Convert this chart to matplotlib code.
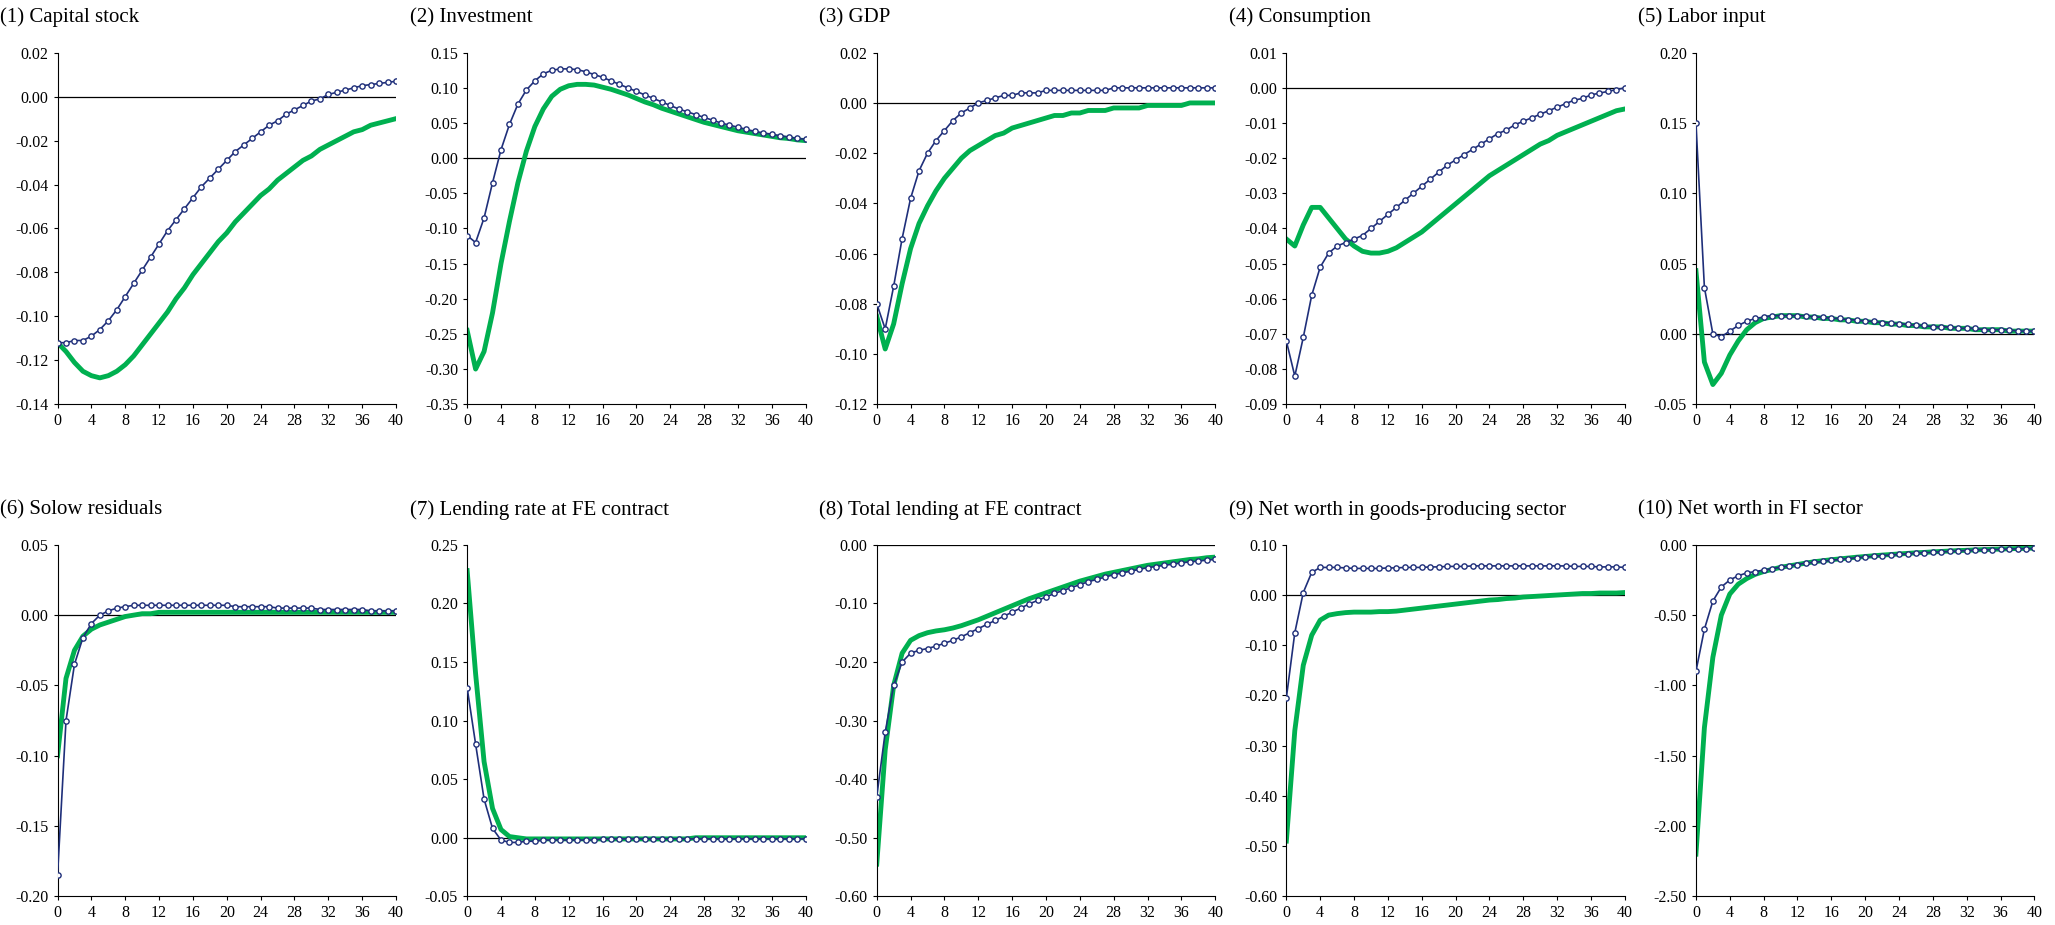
import matplotlib
matplotlib.use('Agg')
import matplotlib.pyplot as plt
import numpy as np

plt.rcParams['font.family'] = ['Liberation Serif', 'DejaVu Serif']

titles = ['(1) Capital stock', '(2) Investment', '(3) GDP', '(4) Consumption', '(5) Labor input',
          '(6) Solow residuals', '(7) Lending rate at FE contract', '(8) Total lending at FE contract',
          '(9) Net worth in goods-producing sector', '(10) Net worth in FI sector']

ylims = [(-0.14, 0.02, 0.02), (-0.35, 0.15, 0.05), (-0.12, 0.02, 0.02), (-0.09, 0.01, 0.01),
         (-0.05, 0.20, 0.05), (-0.20, 0.05, 0.05), (-0.05, 0.25, 0.05), (-0.60, 0.00, 0.10),
         (-0.60, 0.10, 0.10), (-2.50, 0.00, 0.50)]

capital_blue = [-0.112,-0.112,-0.111,-0.111,-0.109,-0.106,-0.102,-0.097,-0.091,-0.085,-0.079,-0.073,-0.067,-0.061,-0.056,-0.051,-0.046,-0.041,-0.037,-0.033,-0.029,-0.025,-0.022,-0.019,-0.016,-0.013,-0.011,-0.008,-0.006,-0.004,-0.002,-0.001,0.001,0.002,0.003,0.004,0.005,0.0055,0.006,0.0065,0.007]
capital_green = [-0.112,-0.116,-0.121,-0.125,-0.127,-0.128,-0.127,-0.125,-0.122,-0.118,-0.113,-0.108,-0.103,-0.098,-0.092,-0.087,-0.081,-0.076,-0.071,-0.066,-0.062,-0.057,-0.053,-0.049,-0.045,-0.042,-0.038,-0.035,-0.032,-0.029,-0.027,-0.024,-0.022,-0.020,-0.018,-0.016,-0.015,-0.013,-0.012,-0.011,-0.010]
invest_blue = [-0.11,-0.12,-0.085,-0.035,0.012,0.048,0.077,0.097,0.11,0.12,0.125,0.127,0.127,0.126,0.123,0.119,0.115,0.11,0.105,0.1,0.095,0.09,0.085,0.08,0.075,0.07,0.066,0.062,0.058,0.054,0.05,0.047,0.044,0.041,0.038,0.036,0.034,0.032,0.03,0.028,0.027]
invest_green = [-0.245,-0.30,-0.275,-0.22,-0.15,-0.09,-0.035,0.01,0.045,0.07,0.088,0.098,0.103,0.105,0.105,0.104,0.101,0.098,0.094,0.09,0.085,0.08,0.076,0.071,0.067,0.063,0.059,0.055,0.051,0.048,0.045,0.042,0.039,0.037,0.035,0.033,0.031,0.029,0.028,0.026,0.025]
gdp_blue = [-0.08,-0.09,-0.073,-0.054,-0.038,-0.027,-0.02,-0.015,-0.011,-0.007,-0.004,-0.002,0.0,0.001,0.002,0.003,0.003,0.004,0.004,0.004,0.005,0.005,0.005,0.005,0.005,0.005,0.005,0.005,0.006,0.006,0.006,0.006,0.006,0.006,0.006,0.006,0.006,0.006,0.006,0.006,0.006]
gdp_green = [-0.085,-0.098,-0.088,-0.072,-0.058,-0.048,-0.041,-0.035,-0.03,-0.026,-0.022,-0.019,-0.017,-0.015,-0.013,-0.012,-0.01,-0.009,-0.008,-0.007,-0.006,-0.005,-0.005,-0.004,-0.004,-0.003,-0.003,-0.003,-0.002,-0.002,-0.002,-0.002,-0.001,-0.001,-0.001,-0.001,-0.001,0.0,0.0,0.0,0.0]
cons_blue = [-0.072,-0.082,-0.071,-0.059,-0.051,-0.047,-0.045,-0.044,-0.043,-0.042,-0.04,-0.038,-0.036,-0.034,-0.032,-0.03,-0.028,-0.026,-0.024,-0.022,-0.0205,-0.019,-0.0175,-0.016,-0.0145,-0.013,-0.012,-0.0105,-0.0095,-0.0085,-0.0075,-0.0065,-0.0055,-0.0045,-0.0035,-0.003,-0.002,-0.0015,-0.001,-0.0005,0.0]
cons_green = [-0.043,-0.045,-0.039,-0.034,-0.034,-0.037,-0.04,-0.043,-0.045,-0.0465,-0.047,-0.047,-0.0465,-0.0455,-0.044,-0.0425,-0.041,-0.039,-0.037,-0.035,-0.033,-0.031,-0.029,-0.027,-0.025,-0.0235,-0.022,-0.0205,-0.019,-0.0175,-0.016,-0.015,-0.0135,-0.0125,-0.0115,-0.0105,-0.0095,-0.0085,-0.0075,-0.0065,-0.006]
labor_blue = [0.15,0.033,0.0,-0.002,0.002,0.006,0.009,0.011,0.012,0.013,0.013,0.013,0.013,0.013,0.012,0.012,0.011,0.011,0.01,0.01,0.009,0.009,0.008,0.008,0.007,0.007,0.006,0.006,0.005,0.005,0.005,0.004,0.004,0.004,0.003,0.003,0.003,0.003,0.002,0.002,0.002]
labor_green = [0.045,-0.02,-0.036,-0.028,-0.015,-0.005,0.003,0.008,0.011,0.012,0.013,0.013,0.013,0.012,0.012,0.011,0.011,0.01,0.01,0.009,0.009,0.008,0.008,0.007,0.007,0.006,0.006,0.005,0.005,0.005,0.004,0.004,0.004,0.003,0.003,0.003,0.003,0.002,0.002,0.002,0.002]
solow_blue = [-0.185,-0.075,-0.035,-0.016,-0.006,0.0,0.003,0.005,0.006,0.007,0.007,0.007,0.007,0.007,0.007,0.007,0.007,0.007,0.007,0.007,0.007,0.006,0.006,0.006,0.006,0.006,0.005,0.005,0.005,0.005,0.005,0.004,0.004,0.004,0.004,0.004,0.004,0.003,0.003,0.003,0.003]
solow_green = [-0.1,-0.045,-0.025,-0.015,-0.01,-0.007,-0.005,-0.003,-0.001,0.0,0.001,0.001] + [0.002] * 29
rate_blue = [0.128,0.08,0.033,0.008,-0.002,-0.004,-0.004,-0.003,-0.003,-0.002,-0.002,-0.002,-0.002,-0.002,-0.002,-0.002] + [-0.001] * 25
rate_green = [0.228,0.14,0.065,0.025,0.007,0.001,0.0] + [-0.001] * 20 + [0.0] * 14
lend_blue = [-0.43,-0.32,-0.24,-0.2,-0.185,-0.18,-0.177,-0.173,-0.168,-0.163,-0.157,-0.15,-0.143,-0.136,-0.129,-0.122,-0.115,-0.108,-0.101,-0.095,-0.089,-0.083,-0.078,-0.073,-0.068,-0.063,-0.059,-0.055,-0.051,-0.048,-0.045,-0.042,-0.039,-0.037,-0.035,-0.033,-0.031,-0.029,-0.028,-0.026,-0.025]
lend_green = [-0.545,-0.35,-0.24,-0.185,-0.163,-0.155,-0.15,-0.147,-0.145,-0.142,-0.138,-0.133,-0.128,-0.122,-0.116,-0.11,-0.104,-0.098,-0.092,-0.087,-0.082,-0.077,-0.072,-0.067,-0.062,-0.058,-0.054,-0.05,-0.047,-0.044,-0.041,-0.038,-0.035,-0.033,-0.031,-0.029,-0.027,-0.025,-0.024,-0.022,-0.021]
nwg_blue = [-0.205,-0.075,0.005,0.045,0.055,0.055,0.055,0.054,0.053,0.053,0.053,0.053,0.054,0.054,0.055,0.055,0.055,0.056,0.056,0.057,0.057,0.057,0.058,0.058,0.058,0.058,0.058,0.058,0.058,0.058,0.058,0.058,0.058,0.058,0.057,0.057,0.057,0.056,0.056,0.056,0.055]
nwg_green = [-0.49,-0.27,-0.14,-0.08,-0.05,-0.04,-0.037,-0.035,-0.034,-0.034,-0.034,-0.033,-0.033,-0.032,-0.03,-0.028,-0.026,-0.024,-0.022,-0.02,-0.018,-0.016,-0.014,-0.012,-0.01,-0.009,-0.007,-0.006,-0.004,-0.003,-0.002,-0.001,0.0,0.001,0.002,0.003,0.003,0.004,0.004,0.004,0.005]
nwf_blue = [-0.9,-0.6,-0.4,-0.3,-0.25,-0.22,-0.2,-0.19,-0.18,-0.17,-0.16,-0.15,-0.14,-0.13,-0.125,-0.118,-0.11,-0.104,-0.098,-0.092,-0.087,-0.082,-0.077,-0.072,-0.068,-0.064,-0.06,-0.056,-0.053,-0.05,-0.047,-0.044,-0.041,-0.039,-0.036,-0.034,-0.032,-0.03,-0.029,-0.027,-0.026]
nwf_green = [-2.2,-1.3,-0.8,-0.5,-0.35,-0.28,-0.24,-0.21,-0.19,-0.175,-0.16,-0.15,-0.14,-0.13,-0.12,-0.113,-0.106,-0.1,-0.094,-0.088,-0.083,-0.078,-0.073,-0.069,-0.065,-0.061,-0.057,-0.054,-0.05,-0.047,-0.044,-0.041,-0.039,-0.036,-0.034,-0.032,-0.03,-0.028,-0.026,-0.025,-0.023]

blues = [capital_blue, invest_blue, gdp_blue, cons_blue, labor_blue,
         solow_blue, rate_blue, lend_blue, nwg_blue, nwf_blue]
greens = [capital_green, invest_green, gdp_green, cons_green, labor_green,
          solow_green, rate_green, lend_green, nwg_green, nwf_green]

fig, axes = plt.subplots(2, 5, figsize=(20.55, 9.25), dpi=100)
fig.subplots_adjust(left=0.028, right=0.99, top=0.943, bottom=0.031, wspace=0.21, hspace=0.40)

for i, ax in enumerate(axes.flat):
    lo, hi, step = ylims[i]
    g = greens[i]
    b = blues[i]
    ax.axhline(0, color='black', lw=0.9, zorder=1)
    ax.plot(np.arange(len(g)), g, color='#00b050', lw=3.5, zorder=2)
    ax.plot(np.arange(len(b)), b, color='#1f2f7a', lw=1.2, marker='o', ms=3.8,
            mfc='white', mec='#1f2f7a', mew=1.0, zorder=3)
    ax.set_xlim(0, 40)
    ax.set_ylim(lo, hi)
    ax.set_xticks(np.arange(0, 41, 4))
    yt = np.round(np.arange(lo, hi + step / 2, step), 4)
    ax.set_yticks(yt)
    ax.set_yticklabels(['%.2f' % (v + 0.0) if abs(v) > 1e-9 else '0.00' for v in yt])
    ax.tick_params(labelsize=11.5, direction='out', length=3)
    for s in ['top', 'right']:
        ax.spines[s].set_visible(False)
    ax.text(-0.17, 1.1, titles[i], transform=ax.transAxes, fontsize=15, ha='left', va='center')

fig.savefig('out.png')
